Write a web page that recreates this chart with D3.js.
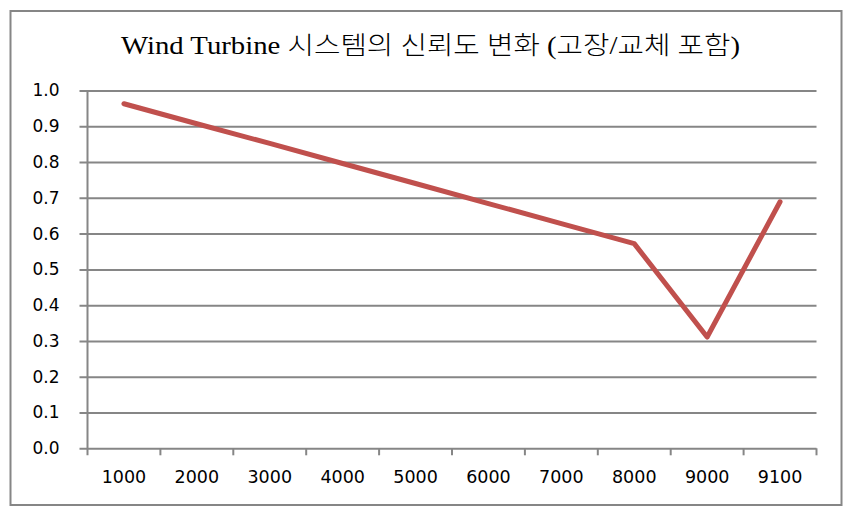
<!DOCTYPE html>
<html>
<head>
<meta charset="utf-8">
<script src="https://cdn.jsdelivr.net/npm/d3@7"></script>
<style>
  html, body { margin: 0; padding: 0; background: #fff; }
  svg { display: block; }
</style>
</head>
<body>
<svg id="chart" width="857" height="516"></svg>
<script>
const title = "Wind Turbine 시스템의 신뢰도 변화 (고장/교체 포함)";
const categories = ["1000", "2000", "3000", "4000", "5000", "6000", "7000", "8000", "9000", "9100"];
const reliability = [0.963, 0.907, 0.852, 0.796, 0.740, 0.684, 0.628, 0.572, 0.311, 0.689];
const yTicks = [0.0, 0.1, 0.2, 0.3, 0.4, 0.5, 0.6, 0.7, 0.8, 0.9, 1.0];

const svg = d3.select("#chart");
const plot = { left: 87.5, right: 816.5, top: 90.5, bottom: 448.3 };
const gridColor = "#868686";

// outer border
svg.append("rect")
  .attr("x", 10.5).attr("y", 11).attr("width", 831).attr("height", 494)
  .attr("fill", "#fff").attr("stroke", gridColor).attr("stroke-width", 2);

// title
svg.append("text")
  .attr("x", 430.5).attr("y", 54)
  .attr("text-anchor", "middle")
  .attr("font-family", "'Liberation Serif', 'Noto Sans CJK KR', serif")
  .attr("font-size", 25)
  .attr("font-weight", 300)
  .attr("fill", "#000")
  .attr("textLength", 619).attr("lengthAdjust", "spacingAndGlyphs")
  .text(title);

const x = d3.scaleBand().domain(categories).range([plot.left, plot.right]).padding(0);
const y = d3.scaleLinear().domain([0, 1]).range([plot.bottom, plot.top]);

// y gridlines + axis
const yAxis = d3.axisLeft(y).tickValues(yTicks).tickFormat(d3.format(".1f"))
  .tickSize(-(plot.right - plot.left)).tickPadding(28);
const gy = svg.append("g").attr("transform", `translate(${plot.left},0)`).call(yAxis);
gy.select(".domain").remove();
gy.selectAll(".tick line")
  .attr("x1", -8)
  .attr("stroke", gridColor).attr("stroke-width", 2);
gy.selectAll(".tick text")
  .attr("font-family", "'DejaVu Sans', sans-serif")
  .attr("font-size", 17).attr("fill", "#000");

// y axis line
svg.append("line")
  .attr("x1", plot.left).attr("x2", plot.left)
  .attr("y1", y(1)).attr("y2", plot.bottom + 7)
  .attr("stroke", gridColor).attr("stroke-width", 2);

// x axis ticks at band boundaries
const bounds = categories.map(c => x(c)).concat([x(categories[categories.length - 1]) + x.bandwidth()]);
svg.append("g").selectAll("line").data(bounds.slice(1)).join("line")
  .attr("x1", d => d).attr("x2", d => d)
  .attr("y1", plot.bottom).attr("y2", plot.bottom + 7)
  .attr("stroke", gridColor).attr("stroke-width", 2);

// x labels
const xAxis = d3.axisBottom(x).tickSize(0).tickPadding(22);
const gx = svg.append("g").attr("transform", `translate(0,${plot.bottom})`).call(xAxis);
gx.select(".domain").remove();
gx.selectAll(".tick text")
  .attr("font-family", "'DejaVu Sans', sans-serif")
  .attr("font-size", 17.5).attr("fill", "#000");

// line
const line = d3.line()
  .x((d, i) => x(categories[i]) + x.bandwidth() / 2)
  .y(d => y(d));
svg.append("path")
  .datum(reliability)
  .attr("d", line)
  .attr("fill", "none")
  .attr("stroke", "#C0504D")
  .attr("stroke-width", 5)
  .attr("stroke-linejoin", "round")
  .attr("stroke-linecap", "round");
</script>
</body>
</html>
